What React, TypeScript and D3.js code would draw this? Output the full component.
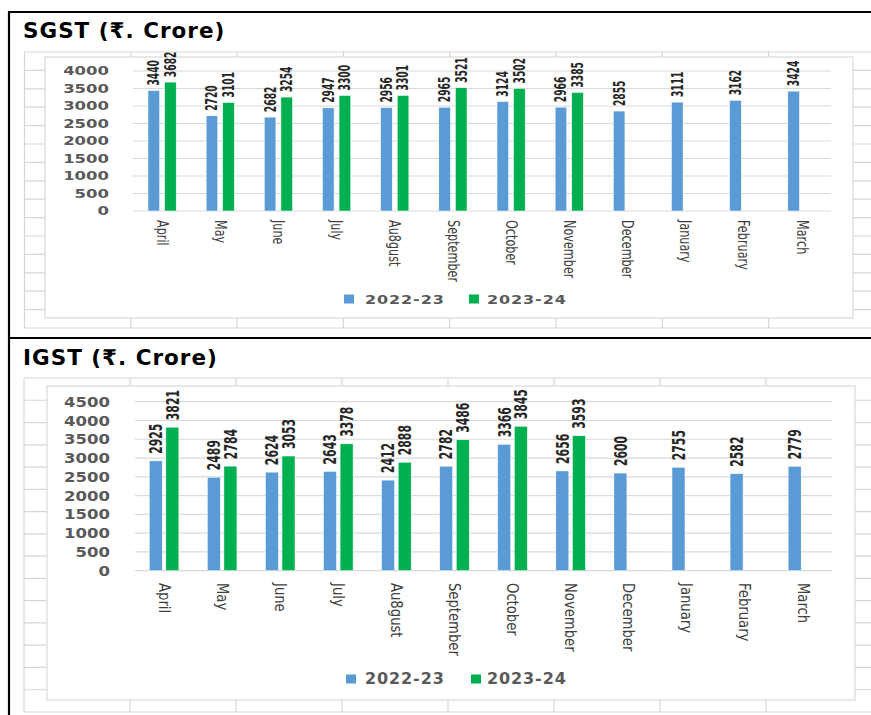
import React from "react";
import * as d3 from "d3";

const MONTHS = ["April", "May", "June", "July", "Au8gust", "September", "October", "November", "December", "January", "February", "March"];
const SERIES = ["2022-23", "2023-24"];
const SGST_2022_23 = [3440, 2720, 2682, 2947, 2956, 2965, 3124, 2966, 2855, 3111, 3162, 3424];
const SGST_2023_24 = [3682, 3101, 3254, 3300, 3301, 3521, 3502, 3385];
const IGST_2022_23 = [2925, 2489, 2624, 2643, 2412, 2782, 3366, 2656, 2600, 2755, 2582, 2779];
const IGST_2023_24 = [3821, 2784, 3053, 3378, 2888, 3486, 3845, 3593];
const SGST_TICKS = [0, 500, 1000, 1500, 2000, 2500, 3000, 3500, 4000];
const IGST_TICKS = [0, 500, 1000, 1500, 2000, 2500, 3000, 3500, 4000, 4500];
const COLORS = ["#5b9bd5", "#00b050"];

const GRID = "#d6d6d6";
const AXIS_TEXT = "#595959";

type Panel = {
  title: string;
  titleY: number;
  a: number[];
  b: number[];
  ticks: number[];
  gridTop: number;
  gridBottom: number;
  rows: number;
  colStart: number;
  colStep: number;
  box: [number, number, number, number];
  x0: number;
  x1: number;
  yBase: number;
  yTop: number;
  barW: number;
  gap: number;
  lblSize: number;
  lblSy: number;
  lblOff: number;
  yLblRight: number;
  yLblSize: number;
  yLblSy: number;
  mStart: number;
  mSize: number;
  mSy: number;
  legY: number;
  legSy: number;
  legShift: number;
};

const PANELS: Panel[] = [
  {
    title: "SGST (₹. Crore)", titleY: 37.5,
    a: SGST_2022_23, b: SGST_2023_24, ticks: SGST_TICKS,
    gridTop: 52, gridBottom: 328, rows: 15, colStart: 24.5, colStep: 106.3,
    box: [45, 57, 853, 318],
    x0: 133, x1: 831, yBase: 211, yTop: 71,
    barW: 11.6, gap: 5,
    lblSize: 15, lblSy: 0.68, lblOff: 5,
    yLblRight: 109, yLblSize: 16.5, yLblSy: 0.72,
    mStart: 220, mSize: 15, mSy: 0.75,
    legY: 299, legSy: 0.82, legShift: 0,
  },
  {
    title: "IGST (₹. Crore)", titleY: 365,
    a: IGST_2022_23, b: IGST_2023_24, ticks: IGST_TICKS,
    gridTop: 378, gridBottom: 712, rows: 15, colStart: 24, colStep: 106,
    box: [47, 386, 855, 700],
    x0: 135, x1: 832, yBase: 570.7, yTop: 401.7,
    barW: 13, gap: 3.6,
    lblSize: 17.5, lblSy: 0.69, lblOff: 7,
    yLblRight: 110, yLblSize: 16.5, yLblSy: 0.86,
    mStart: 583, mSize: 15, mSy: 0.88,
    legY: 679, legSy: 0.95, legShift: 2,
  },
];

function ExcelGrid({ p }: { p: Panel }) {
  const rowStep = (p.gridBottom - p.gridTop) / p.rows;
  const rows = d3.range(p.rows + 1).map((i) => p.gridTop + i * rowStep);
  const cols = d3.range(0, 9).map((i) => p.colStart + i * p.colStep).filter((c) => c < 871);
  return (
    <g>
      {rows.map((r, i) => (
        <line key={"r" + i} x1={24} x2={871} y1={r} y2={r} stroke={GRID} strokeWidth={1.2} />
      ))}
      {cols.map((c, i) => (
        <line key={"c" + i} x1={c} x2={c} y1={p.gridTop} y2={p.gridBottom} stroke={GRID} strokeWidth={1.2} />
      ))}
    </g>
  );
}

function ChartPanel({ p }: { p: Panel }) {
  const maxT = p.ticks[p.ticks.length - 1];
  const x = d3.scaleBand<string>().domain(MONTHS).range([p.x0, p.x1]);
  const y = d3.scaleLinear().domain([0, maxT]).range([p.yBase, p.yTop]);
  const [bx0, by0, bx1, by1] = p.box;
  const half = p.barW + p.gap / 2;
  const series = [p.a, p.b];
  const legendItems = [
    { name: SERIES[0], sq: 344, tx: 365 },
    { name: SERIES[1], sq: 469, tx: 487 },
  ];
  return (
    <g>
      <text x={23} y={p.titleY} fontFamily="DejaVu Sans" fontWeight="bold" fontSize={21.5} letterSpacing={1} fill="#000">
        {p.title}
      </text>
      <ExcelGrid p={p} />
      <rect x={bx0} y={by0} width={bx1 - bx0} height={by1 - by0} fill="#fff" stroke="#d9d9d9" strokeWidth={1.2} />
      {p.ticks.map((t) => (
        <line key={"g" + t} x1={p.x0} x2={p.x1} y1={y(t)} y2={y(t)} stroke="#d9d9d9" strokeWidth={1.2} />
      ))}
      {p.ticks.map((t) => (
        <g key={"yl" + t} transform={`translate(${p.yLblRight},${y(t)}) scale(1,${p.yLblSy})`}>
          <text textAnchor="end" dy="0.36em" fontFamily="DejaVu Sans" fontWeight="bold" fontSize={p.yLblSize} fill={AXIS_TEXT}>
            {t}
          </text>
        </g>
      ))}
      {series.map((vals, si) =>
        vals.map((v, i) => {
          const c = (x(MONTHS[i]) as number) + x.bandwidth() / 2;
          const left = si === 0 ? c - half : c + p.gap / 2;
          return (
            <rect
              key={`b${si}-${i}`}
              x={left}
              y={y(v)}
              width={p.barW}
              height={p.yBase - y(v)}
              fill={COLORS[si]}
              stroke="#ffffff"
              strokeWidth={0.5}
            />
          );
        })
      )}
      {series.map((vals, si) =>
        vals.map((v, i) => {
          const c = (x(MONTHS[i]) as number) + x.bandwidth() / 2;
          const bc = si === 0 ? c - half + p.barW / 2 : c + p.gap / 2 + p.barW / 2;
          return (
            <g key={`l${si}-${i}`} transform={`translate(${bc},${y(v) - p.lblOff}) scale(1,${p.lblSy})`}>
              <text
                transform="rotate(-90)"
                dy="0.36em"
                fontFamily="'DejaVu Sans Condensed', 'DejaVu Sans'"
                fontStretch="condensed"
                fontWeight="bold"
                fontSize={p.lblSize}
                fill="#262626"
              >
                {v}
              </text>
            </g>
          );
        })
      )}
      {MONTHS.map((m) => {
        const c = (x(m) as number) + x.bandwidth() / 2;
        return (
          <g key={"m" + m} transform={`translate(${c},${p.mStart}) scale(1,${p.mSy})`}>
            <text transform="rotate(90)" dy="0.36em" fontFamily="DejaVu Sans" fontSize={p.mSize} fill="#404040">
              {m}
            </text>
          </g>
        );
      })}
      {legendItems.map((l, i) => (
        <g key={"lg" + i}>
          <rect x={l.sq + p.legShift} y={p.legY - 4.5} width={10} height={9} fill={COLORS[i]} />
          <g transform={`translate(${l.tx},${p.legY}) scale(1,${p.legSy})`}>
            <text dy="0.36em" fontFamily="DejaVu Sans" fontWeight="bold" fontSize={16} letterSpacing={0.9} fill={AXIS_TEXT}>
              {l.name}
            </text>
          </g>
        </g>
      ))}
    </g>
  );
}

export default function App() {
  return (
    <svg
      width={871}
      height={715}
      viewBox="0 0 871 715"
      style={{ position: "absolute", left: 0, top: 0, background: "#fff" }}
    >
      <rect x={0} y={0} width={871} height={715} fill="#fff" />
      {PANELS.map((p, i) => (
        <ChartPanel key={i} p={p} />
      ))}
      <line x1={8} x2={871} y1={12} y2={12} stroke="#000" strokeWidth={2.2} />
      <line x1={8} x2={871} y1={338} y2={338} stroke="#000" strokeWidth={2.2} />
      <line x1={9} x2={9} y1={11} y2={715} stroke="#000" strokeWidth={2.2} />
    </svg>
  );
}
